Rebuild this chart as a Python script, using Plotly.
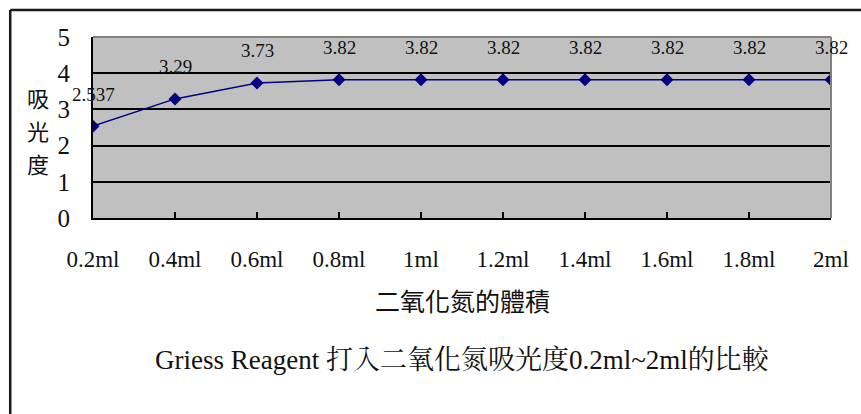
import plotly.graph_objects as go

# Absorbance of Griess reagent vs. volume of NO2 injected
volumes = ["0.2ml", "0.4ml", "0.6ml", "0.8ml", "1ml", "1.2ml", "1.4ml", "1.6ml", "1.8ml", "2ml"]
absorbance = [2.537, 3.29, 3.73, 3.82, 3.82, 3.82, 3.82, 3.82, 3.82, 3.82]
label_text = ["2.537", "3.29", "3.73", "3.82", "3.82", "3.82", "3.82", "3.82", "3.82", "3.82"]
y_ticks = [0, 1, 2, 3, 4, 5]
y_title_chars = ["吸", "光", "度"]

W, H = 861, 414
L, R, T, B = 93, 833, 37, 218  # plot area edges in pixels

def px(x):
    return (x - L) / (R - L)

def py(y):
    return (B - y) / (B - T)

SERIF = "Liberation Serif, Noto Serif CJK TC, Noto Sans CJK TC, serif"
CJK = "Noto Sans CJK TC, Liberation Serif, serif"

fig = go.Figure()
fig.add_trace(go.Scatter(
    x=list(range(len(volumes))),
    y=absorbance,
    mode="lines+markers",
    line=dict(color="#000080", width=1.5),
    marker=dict(symbol="diamond", size=10, color="#000080"),
    hoverinfo="skip",
    showlegend=False,
))

annotations = []
for i, (v, t) in enumerate(zip(absorbance, label_text)):
    annotations.append(dict(
        x=i, y=v, xref="x", yref="y", text=t, showarrow=False,
        yshift=32, font=dict(family=SERIF, size=19, color="#111111"),
    ))

# vertical y-axis title, one character per row
for k, ch in enumerate(y_title_chars):
    annotations.append(dict(
        x=px(38), y=py(97 + 33 * k), xref="paper", yref="paper",
        xanchor="center", yanchor="middle",
        text=ch, showarrow=False,
        font=dict(family=CJK, size=22, color="#111111"),
    ))
# x-axis title
annotations.append(dict(
    x=px(463), y=py(300), xref="paper", yref="paper",
    xanchor="center", yanchor="middle",
    text="二氧化氮的體積", showarrow=False,
    font=dict(family=CJK, size=25, color="#111111"),
))
# chart caption
annotations.append(dict(
    x=px(463), y=py(360), xref="paper", yref="paper",
    xanchor="center", yanchor="middle",
    text="Griess Reagent 打入二氧化氮吸光度0.2ml~2ml的比較", showarrow=False,
    font=dict(family=SERIF, size=27, color="#111111"),
))

shapes = [
    # top and right edges of the plot area
    dict(type="line", xref="paper", yref="paper", x0=0, x1=1, y0=1, y1=1,
         line=dict(color="#808080", width=2)),
    dict(type="line", xref="paper", yref="paper", x0=1, x1=1, y0=0, y1=1,
         line=dict(color="#808080", width=2)),
    # outer frame (left and top)
    dict(type="line", xref="paper", yref="paper", x0=px(10), x1=px(10), y0=py(10), y1=py(420),
         line=dict(color="#1a1a1a", width=2.5)),
    dict(type="line", xref="paper", yref="paper", x0=px(10), x1=px(870), y0=py(10), y1=py(10),
         line=dict(color="#1a1a1a", width=2.5)),
]

fig.update_layout(
    width=W, height=H,
    margin=dict(l=L, r=W - R, t=T, b=H - B),
    paper_bgcolor="white",
    plot_bgcolor="#C0C0C0",
    annotations=annotations,
    shapes=shapes,
    xaxis=dict(
        range=[0, len(volumes) - 1],
        tickvals=list(range(len(volumes))),
        ticktext=volumes,
        showgrid=False, zeroline=False,
        showline=True, linecolor="black", linewidth=2,
        ticks="inside", ticklen=6, tickcolor="black", tickwidth=1.5,
        ticklabelstandoff=19,
        tickfont=dict(family=SERIF, size=23, color="#111111"),
    ),
    yaxis=dict(
        range=[0, 5],
        tickvals=y_ticks,
        showgrid=True, gridcolor="black", gridwidth=1.5,
        zeroline=False,
        showline=True, linecolor="black", linewidth=2,
        ticks="", ticklabelstandoff=16,
        tickfont=dict(family=SERIF, size=25, color="#111111"),
    ),
)

fig.write_html("out.html")
